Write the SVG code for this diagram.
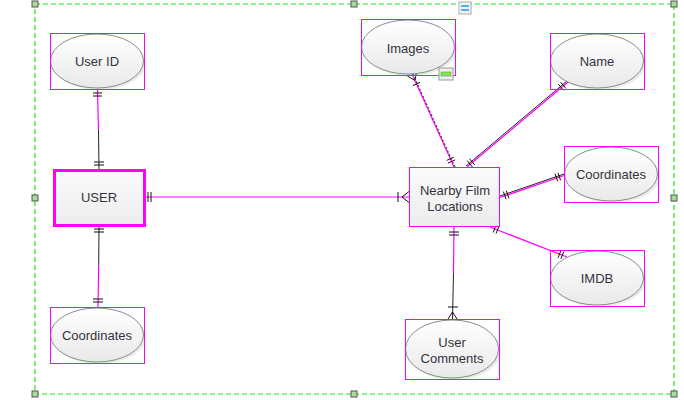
<svg xmlns="http://www.w3.org/2000/svg" width="684" height="400" viewBox="0 0 684 400">
<defs>
<linearGradient id="eg" x1="0" y1="0" x2="0" y2="1"><stop offset="0" stop-color="#ffffff"/><stop offset="1" stop-color="#e9e9e9"/></linearGradient>
<linearGradient id="rg" x1="0" y1="0" x2="0" y2="1"><stop offset="0" stop-color="#fbfbfb"/><stop offset="1" stop-color="#ececec"/></linearGradient>
</defs>
<style>
.sel{fill:none;stroke:#ff00ff;stroke-width:1}
.ell{fill:url(#eg);stroke:#8c8c8c;stroke-width:1}
.shd{fill:#000;opacity:0.08}
.box{fill:url(#rg);stroke:#ff00ff}
.t{font-family:"Liberation Sans",Arial,sans-serif;font-size:13px;fill:#333340;text-anchor:middle}
.m{stroke:#ff00ff;stroke-width:1.2;fill:none}
.k{stroke:#222;stroke-width:1;fill:none}
.tk{stroke:#111;stroke-width:1;fill:none}
.frame{fill:none;stroke:#1fe81f;stroke-width:1.2;stroke-dasharray:5,3}
.h{fill:#a8dc9a;stroke:#555;stroke-width:1}
</style>
<rect width="684" height="400" fill="#ffffff"/>
<g id="selection">
<rect class="frame" x="35" y="4" width="639" height="390"/>
<rect class="h" x="32" y="1" width="6" height="6"/>
<rect class="h" x="351" y="1" width="6" height="6"/>
<rect class="h" x="671" y="1" width="6" height="6"/>
<rect class="h" x="32" y="195" width="6" height="6"/>
<rect class="h" x="671" y="195" width="6" height="6"/>
<rect class="h" x="32" y="391" width="6" height="6"/>
<rect class="h" x="351" y="391" width="6" height="6"/>
<rect class="h" x="671" y="391" width="6" height="6"/>
<rect x="459" y="2" width="12" height="12" fill="#f2f2f2" stroke="#aaa"/>
<rect x="461" y="5" width="8" height="2" fill="#4fb3e8"/>
<rect x="461" y="9" width="8" height="2" fill="#4fb3e8"/>
</g>
<g id="connectors">
<path class="m" d="M97.5,89 L98.5,130"/><path class="k" d="M98.5,130 L99,170"/>
<path class="tk" d="M93,93 H102 M93,96 H102 M94,162 H104 M94,165 H104"/>
<path class="k" d="M99,226 L98.7,265"/><path class="m" d="M98.7,265 L98,307"/>
<path class="tk" d="M94,229 H104 M94,232 H104 M93,299 H103 M93,302 H103"/>
<path class="m" d="M145,197 H409"/>
<path class="tk" d="M148,192 V202 M151,192 V202 M398,192 V202 M402,197 L409,191.5 M402,197 L409,202.5"/>
<path class="m" d="M412,74 L454,167"/><path class="k" d="M413,74 L455,167" stroke-dasharray="2,2" stroke-width="0.8"/>
<path class="tk" d="M414.9,80.4 L407.4,76.1 M414.9,80.4 L416.6,71.9 M412.9,85.6 L420.1,82.4 M447.9,163.1 L455.1,159.9 M446.7,160.4 L453.9,157.2"/>
<path class="k" d="M567,81 L466,166"/><path class="m" d="M568,82 L467,167"/>
<path class="tk" d="M560.6,82.1 L565.8,88.3 M558.3,84.1 L563.5,90.3 M467.2,160.7 L472.4,166.9 M469.5,158.7 L474.7,164.9"/>
<path class="k" d="M564,174 L500,196"/><path class="m" d="M564,175.5 L500,197.5"/>
<path class="tk" d="M558,172.8 L560.6,180.4 M555.1,173.8 L557.7,181.4 M503.4,191.6 L506,199.2 M506.3,190.6 L508.9,198.2"/>
<path class="m" d="M567,257 L490,227"/>
<path class="tk" d="M560.9,258.9 L563.8,251.5 M558,257.8 L561,250.4 M493.2,232.5 L496.1,225.1 M496,233.6 L499,226.2"/>
<path class="m" d="M454,227 L453.5,273"/><path class="k" d="M453.5,273 L452.5,319"/>
<path class="tk" d="M449,232 H459 M449,235 H459 M448,307 H458 M452.5,312 L448,319 M452.5,312 L457,319"/>
</g>
<g id="user-id">
<ellipse class="shd" cx="99" cy="63" rx="47" ry="27"/>
<ellipse class="ell" cx="97" cy="61" rx="46.5" ry="27"/>
<rect class="sel" x="50.5" y="33.5" width="94" height="56"/>
<text class="t" x="97" y="66">User ID</text>
</g>
<g id="user">
<rect x="54.5" y="170.5" width="90" height="55" fill="url(#rg)" stroke="#ff00ff" stroke-width="3"/>
<text class="t" x="99" y="202">USER</text>
</g>
<g id="coordinates-user">
<ellipse class="shd" cx="99" cy="337" rx="47" ry="27"/>
<ellipse class="ell" cx="97" cy="335" rx="46.5" ry="27"/>
<rect class="sel" x="50.5" y="307.5" width="94" height="56"/>
<text class="t" x="97" y="340">Coordinates</text>
</g>
<g id="images">
<ellipse class="shd" cx="410" cy="49" rx="47" ry="27"/>
<ellipse class="ell" cx="408" cy="47" rx="46.5" ry="27"/>
<rect class="sel" x="361.5" y="19.5" width="94" height="56"/>
<text class="t" x="408" y="53">Images</text>
<rect x="439" y="68" width="14" height="12" fill="#eee" stroke="#999"/>
<rect x="441" y="72" width="10" height="4" fill="#8fe04a" stroke="#4a9a20" stroke-width="0.5"/>
</g>
<g id="name">
<ellipse class="shd" cx="599" cy="63" rx="47" ry="27"/>
<ellipse class="ell" cx="597" cy="61" rx="46.5" ry="27"/>
<rect class="sel" x="550.5" y="33.5" width="94" height="56"/>
<text class="t" x="597" y="66">Name</text>
</g>
<g id="coordinates-film">
<ellipse class="shd" cx="613" cy="176" rx="47" ry="27"/>
<ellipse class="ell" cx="611" cy="174" rx="46.5" ry="27"/>
<rect class="sel" x="564.5" y="146.5" width="94" height="56"/>
<text class="t" x="611" y="179">Coordinates</text>
</g>
<g id="nearby-film-locations">
<rect class="box" x="409.5" y="167.5" width="90" height="59"/>
<text class="t" x="455" y="195">Nearby Film</text>
<text class="t" x="455" y="211">Locations</text>
</g>
<g id="imdb">
<ellipse class="shd" cx="599" cy="280" rx="47" ry="27"/>
<ellipse class="ell" cx="597" cy="278" rx="46.5" ry="27"/>
<rect class="sel" x="550.5" y="250.5" width="94" height="56"/>
<text class="t" x="597" y="283">IMDB</text>
</g>
<g id="user-comments">
<ellipse class="shd" cx="454" cy="351" rx="47" ry="29"/>
<ellipse class="ell" cx="452" cy="349" rx="46.5" ry="29"/>
<rect class="sel" x="405.5" y="319.5" width="94" height="60"/>
<text class="t" x="452" y="347">User</text>
<text class="t" x="452" y="363">Comments</text>
</g>
</svg>
